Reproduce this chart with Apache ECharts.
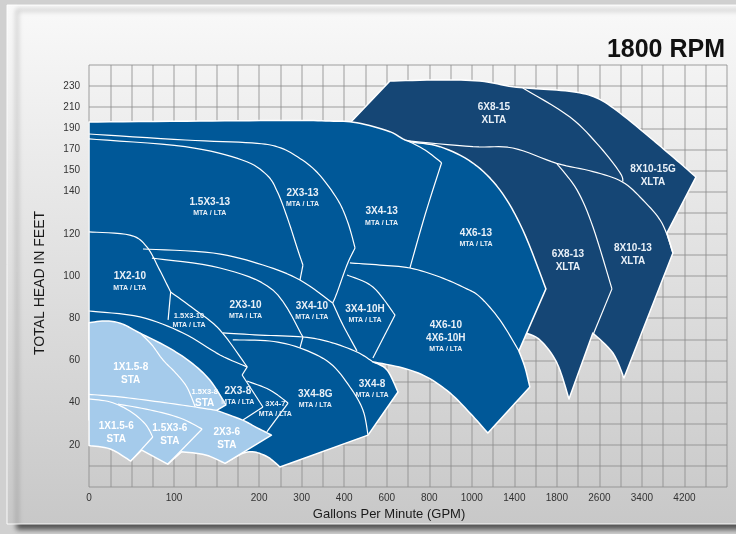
<!DOCTYPE html>
<html>
<head>
<meta charset="utf-8">
<script src="https://cdn.jsdelivr.net/npm/echarts/dist/echarts.min.js"></script>
<style>
html, body { margin: 0; padding: 0; background: #d0d0d0; }
#chart { width: 736px; height: 534px; }
</style>
</head>
<body>
<div id="chart"></div>
<script>
// tick labels shown on the axes
const xTickValues = [0, 100, 200, 300, 400, 600, 800, 1000, 1400, 1800, 2600, 3400, 4200];
const yTickValues = [20, 40, 60, 80, 100, 120, 140, 150, 170, 190, 210, 230];

// the chart uses a stretched scale: where each value sits, in grid cells
const gpmStops = [0, 100, 200, 300, 400, 600, 800, 1000, 1400, 1800, 2600, 3400, 4200, 5000];
const gpmCells = [0, 4, 8, 10, 12, 14, 16, 18, 20, 22, 24, 26, 28, 30];
const headStops = [0, 20, 40, 60, 80, 100, 120, 140, 150, 170, 190, 210, 230, 250];
const headCells = [0, 2, 4, 6, 8, 10, 12, 14, 15, 16, 17, 18, 19, 20];

// coverage outlines, [gpm, head ft]; each run is one smooth stretch, corners between runs
const xltaOutline = [
  [[427, 195], [615, 234.8]],
  [[615, 234.8], [850, 235.8], [1076, 234.8], [1386, 229.4], [1640, 227.3], [2103, 224.7], [2554, 218.7], [2986, 204.5], [3607, 178.9], [4115, 157.1], [4415, 146.9]],
  [[4415, 146.9], [3871, 120.4]],
  [[3871, 120.4], [3983, 110.9]],
  [[3983, 110.9], [3062, 51.7]],
  [[3062, 51.7], [2854, 63.5], [2477, 73.0]],
  [[2477, 73.0], [2028, 41.7]],
  [[2028, 41.7], [1801, 58.8], [1640, 69.7], [1480, 73.5]],
  [[1480, 73.5], [1405, 74.4]],
  [[1405, 74.4], [1076, 131.3]],
  [[1076, 131.3], [756, 169.4]],
  [[756, 169.4], [474, 190.3]],
  [[474, 190.3], [427, 195]]
];
const mtaOutline = [
  [[0, 196.0], [130, 196.9], [272, 197.4], [366, 196.9], [460, 195.3], [615, 186.8], [700, 178], [850, 172.6], [1010, 157.1], [1264, 140.8], [1480, 121.8], [1697, 93.9]],
  [[1697, 93.9], [1443, 64.5]],
  [[1443, 64.5], [1499, 56.9], [1546, 47.4]],
  [[1546, 47.4], [1151, 25.6]],
  [[1151, 25.6], [991, 35.1], [897, 44.6], [789, 52.1], [676, 56.4], [535, 59.3]],
  [[535, 59.3], [601, 55.5], [653, 45.0]],
  [[653, 45.0], [512, 24.6]],
  [[512, 24.6], [249, 9.5]],
  [[249, 9.5], [216, 14.7], [186, 16.6], [160, 11.4]],
  [[160, 11.4], [142, 27.0]],
  [[142, 27.0], [0, 31.8]],
  [[0, 31.8], [0, 196.0]]
];
const staOutline = [
  [[0, 77.9], [21, 78.7], [39, 77.3], [60, 72.9], [92, 66.4], [119, 59.3], [142, 50.7], [161, 38.9]],
  [[161, 38.9], [150, 36.3]],
  [[150, 36.3], [180, 31.8], [196, 28.4], [229, 24.6]],
  [[229, 24.6], [160, 11.2]],
  [[160, 11.2], [137, 15.2], [109, 16.7]],
  [[109, 16.7], [92.5, 10.8]],
  [[92.5, 10.8], [62, 17.5]],
  [[62, 17.5], [49, 12.3]],
  [[49, 12.3], [25, 18.0], [0, 19.7]],
  [[0, 19.7], [0, 77.9]]
];

// boundaries between pump models, [gpm, head ft]
const xltaCurves = [
  [[700, 178], [1010, 172.6], [1386, 171.3], [1798, 156.8], [2479, 149.5], [3024, 144.7], [3419, 136.0], [3776, 125.1], [3983, 110.9]],
  [[1480, 228.2], [2046, 200.7], [2610, 172.3], [2986, 149.0], [3043, 144.7]],
  [[1798, 156.8], [2178, 140.8], [2479, 123.2], [2836, 93.9]],
  [[2836, 93.9], [2479, 72.0]]
];
const mtaCurves = [
  [[0, 184.6], [113, 178.9], [191.5, 176.1], [244, 172.3], [291, 162.8], [338, 148.8], [385, 136.0], [418, 125.1], [451, 113.3]],
  [[451, 113.3], [413, 105.2], [383, 92.0], [373, 87.2]],
  [[0, 179.9], [113, 172.6], [180, 160], [218, 147.9], [244, 139.4], [268, 126.6], [291, 112.3], [303, 105.2]],
  [[303, 105.2], [296, 98.1]],
  [[0, 120.9], [48, 119.4], [68, 113.8], [83, 102.9], [96, 92.4]],
  [[96, 92.4], [93, 79.2]],
  [[63.5, 112.8], [146, 110.9], [209, 105.2], [296, 98.1], [373, 87.2]],
  [[0, 83.4], [60, 80.6], [110.5, 73.0], [154, 62.6], [186, 56.9]],
  [[157.5, 73.0], [202, 72.0], [303, 71.1], [366, 68.7], [460, 64.0], [535, 59.3]],
  [[700, 178], [780, 169.4], [858, 157.4]],
  [[858, 157.4], [780, 128.9], [709, 103.8]],
  [[427, 106.2], [568, 105.2], [709, 103.8], [850, 99.5], [968, 94.3], [1076, 90.1], [1264, 79.2], [1443, 64.5]],
  [[413, 100.5], [535, 94.8], [639, 81.5]],
  [[639, 81.5], [535, 61.1]],
  [[373, 87.2], [397, 76.8], [460, 64.5]],
  [[169, 69.7], [225, 69.2], [296, 65.9], [366, 58.8], [427, 47.4], [488, 36.5], [512, 24.6]],
  [[180, 53.1], [209, 37.9]],
  [[209, 37.9], [181, 31.8]],
  [[186, 50.2], [225, 46.0], [268, 39.8]],
  [[268, 39.8], [218, 26.1]],
  [[96, 92.4], [125, 83.9], [154, 74.4], [186, 56.9]],
  [[186, 56.9], [180, 53.1]],
  [[74, 108.5], [154, 103.8], [232, 93.4], [303, 71.1]],
  [[303, 71.1], [296, 65.9]]
];
const staCurves = [
  [[60, 73.0], [74, 67.3], [87, 60.2], [102, 54.0], [115, 47.4], [125, 37.9]],
  [[0, 43.9], [36, 42.7], [83, 40.3], [125, 37.9], [150, 36.3]],
  [[0, 41.7], [25, 40.3], [48, 36.0], [66, 29.9], [75, 23.7]],
  [[75, 23.7], [49, 12.3]],
  [[34, 39.3], [72, 36.5], [107, 32.7], [133, 27.5]],
  [[133, 27.5], [92.5, 10.8]]
];

// model names and where they sit
const labelLines = [
  ['6X8-15', 'XLTA'], ['8X10-15G', 'XLTA'], ['1.5X3-13', 'MTA / LTA'], ['2X3-13', 'MTA / LTA'],
  ['3X4-13', 'MTA / LTA'], ['4X6-13', 'MTA / LTA'], ['6X8-13', 'XLTA'], ['8X10-13', 'XLTA'],
  ['1X2-10', 'MTA / LTA'], ['2X3-10', 'MTA / LTA'], ['3X4-10', 'MTA / LTA'], ['3X4-10H', 'MTA / LTA'],
  ['1.5X3-10', 'MTA / LTA'], ['4X6-10', '4X6-10H', 'MTA / LTA'], ['1X1.5-8', 'STA'], ['1.5X3-8', 'STA'],
  ['2X3-8', 'MTA / LTA'], ['3X4-7', 'MTA / LTA'], ['3X4-8G', 'MTA / LTA'], ['3X4-8', 'MTA / LTA'],
  ['1X1.5-6', 'STA'], ['1.5X3-6', 'STA'], ['2X3-6', 'STA']
];
const labelGpm = [1208, 3607, 142, 302, 576, 1039, 2009, 3231, 48, 184, 324, 498, 117.5, 878, 49, 136, 175, 238, 332, 531, 32, 95, 162];
const labelHead = [203.6, 147.7, 132.9, 137.0, 128.4, 118.0, 107.1, 110.0, 97.6, 84.0, 83.4, 82.3, 79.0, 71.6, 53.6, 42.2, 43.1, 37.0, 41.9, 46.5, 25.6, 24.8, 22.9];
const smallNames = ['1.5X3-10', '1.5X3-8', '3X4-7'];

const FONT = '"Liberation Sans", Arial, sans-serif';

function interp(v, from, to) {
  for (let i = 1; i < from.length; i++) {
    if (v <= from[i]) {
      const t = (v - from[i - 1]) / (from[i] - from[i - 1]);
      return to[i - 1] + t * (to[i] - to[i - 1]);
    }
  }
  return to[to.length - 1];
}
const toX = (g) => interp(g, gpmStops, gpmCells);
const toY = (h) => interp(h, headStops, headCells);

const xLabelAt = {};
xTickValues.forEach((v) => { xLabelAt[toX(v)] = String(v); });
const yLabelAt = {};
yTickValues.forEach((v) => { yLabelAt[toY(v)] = String(v); });

// catmull-rom through screen points, so the curves come out round
function spline(pts, steps) {
  if (pts.length < 3) return pts.slice();
  const out = [pts[0]];
  for (let i = 0; i < pts.length - 1; i++) {
    const p0 = pts[i - 1] || pts[i];
    const p1 = pts[i];
    const p2 = pts[i + 1];
    const p3 = pts[i + 2] || p2;
    for (let s = 1; s <= steps; s++) {
      const t = s / steps;
      const t2 = t * t;
      const t3 = t2 * t;
      out.push([0, 1].map((k) => 0.5 * (2 * p1[k] + (-p0[k] + p2[k]) * t +
        (2 * p0[k] - 5 * p1[k] + 4 * p2[k] - p3[k]) * t2 +
        (-p0[k] + 3 * p1[k] - 3 * p2[k] + p3[k]) * t3)));
    }
  }
  return out;
}

function runPoints(api, run) {
  return spline(run.map((p) => api.coord([toX(p[0]), toY(p[1])])), 8);
}

function areaSeries(runs, fill) {
  return {
    type: 'custom',
    silent: true,
    data: [[toX(runs[0][0][0]), toY(runs[0][0][1])]],
    encode: { x: 0, y: 1 },
    renderItem(params, api) {
      let pts = [];
      runs.forEach((run) => { pts = pts.concat(runPoints(api, run).slice(pts.length ? 1 : 0)); });
      return {
        type: 'polygon',
        shape: { points: pts },
        style: { fill: fill, stroke: '#ffffff', lineWidth: 1.5, lineJoin: 'round' }
      };
    }
  };
}

function curveSeries(runs) {
  return {
    type: 'custom',
    silent: true,
    data: runs.map((r) => [toX(r[0][0]), toY(r[0][1])]),
    encode: { x: 0, y: 1 },
    renderItem(params, api) {
      return {
        type: 'polyline',
        shape: { points: runPoints(api, runs[params.dataIndex]) },
        style: { fill: null, stroke: '#ffffff', lineWidth: 1.2, lineJoin: 'round' }
      };
    }
  };
}

function lineFont(text) {
  if (text === 'MTA / LTA') return 7;
  if (smallNames.indexOf(text) >= 0) return 7.5;
  return 10;
}

const labelSeries = {
  type: 'custom',
  silent: true,
  z: 10,
  data: labelGpm.map((g, i) => [toX(g), toY(labelHead[i])]),
  encode: { x: 0, y: 1 },
  renderItem(params, api) {
    const c = api.coord([api.value(0), api.value(1)]);
    const lines = labelLines[params.dataIndex];
    const heights = lines.map((t) => lineFont(t) * 1.3);
    const total = heights.reduce((a, b) => a + b, 0);
    let y = c[1] - total / 2;
    const onLight = lines[1] === 'STA';
    return {
      type: 'group',
      children: lines.map((t, k) => {
        const cy = y + heights[k] / 2;
        y += heights[k];
        return {
          type: 'text',
          x: c[0],
          y: cy,
          style: {
            text: t,
            fill: onLight ? '#ffffff' : '#e9f0f7',
            font: 'bold ' + lineFont(t) + 'px ' + FONT,
            align: 'center',
            verticalAlign: 'middle'
          }
        };
      })
    };
  }
};

const chart = echarts.init(document.getElementById('chart'));
chart.setOption({
  animation: false,
  backgroundColor: '#d0d0d0',
  textStyle: { fontFamily: FONT },
  graphic: [
    {
      type: 'rect',
      z: -10,
      silent: true,
      shape: { x: 7, y: 5, width: 745, height: 519 },
      style: {
        fill: new echarts.graphic.LinearGradient(0, 0, 0, 1, [
          { offset: 0, color: '#f9f9f9' },
          { offset: 1, color: '#c8c8c8' }
        ]),
        stroke: 'rgba(255,255,255,0.9)',
        lineWidth: 1,
        shadowBlur: 5,
        shadowOffsetX: 10,
        shadowOffsetY: 5,
        shadowColor: 'rgba(0,0,0,0.6)'
      }
    }
  ],
  title: {
    text: '1800 RPM',
    right: 11,
    top: 38,
    padding: 0,
    textStyle: { fontSize: 25, fontWeight: 'bold', color: '#111111', fontFamily: FONT }
  },
  grid: { left: 89, right: 9, top: 65, bottom: 47 },
  xAxis: {
    type: 'value',
    min: 0,
    max: 30,
    interval: 1,
    name: 'Gallons Per Minute (GPM)',
    nameLocation: 'middle',
    nameGap: 16,
    nameTextStyle: { fontSize: 13, color: '#1a1a1a', padding: [0, 38, 0, 0] },
    axisLine: { show: false },
    axisTick: { show: false },
    axisLabel: {
      margin: 6,
      fontSize: 10,
      color: '#333333',
      formatter: (v) => xLabelAt[v] || ''
    },
    splitLine: { lineStyle: { color: 'rgba(140,140,140,0.42)', width: 2 } }
  },
  yAxis: {
    type: 'value',
    min: 0,
    max: 20,
    interval: 1,
    name: 'TOTAL HEAD IN FEET',
    nameLocation: 'middle',
    nameGap: 42,
    nameRotate: 90,
    nameTextStyle: { fontSize: 14, color: '#1a1a1a', padding: [0, 14, 0, 0] },
    axisLine: { show: false },
    axisTick: { show: false },
    axisLabel: {
      margin: 9,
      fontSize: 10,
      color: '#333333',
      formatter: (v) => yLabelAt[v] || ''
    },
    splitLine: { lineStyle: { color: 'rgba(140,140,140,0.42)', width: 2 } }
  },
  series: [
    areaSeries(xltaOutline, '#154675'),
    curveSeries(xltaCurves),
    areaSeries(mtaOutline, '#005898'),
    curveSeries(mtaCurves),
    areaSeries(staOutline, '#a5cbeb'),
    curveSeries(staCurves),
    labelSeries
  ]
});
</script>
</body>
</html>
